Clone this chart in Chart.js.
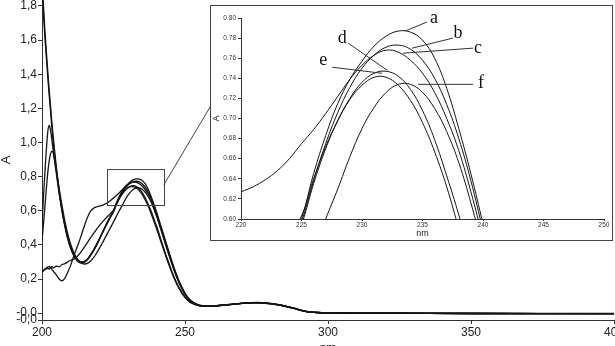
<!DOCTYPE html>
<html>
<head>
<meta charset="utf-8">
<script src="https://cdn.jsdelivr.net/npm/chart.js@4.4.1/dist/chart.umd.min.js"></script>
<style>
  body { margin: 0; background: #fff; }
  #wrap { position: relative; width: 615px; height: 346px; overflow: hidden; background: #fff; }
  #inset { position: absolute; left: 210px; top: 5px; width: 401px; height: 234px; border: 1px solid #444; background: #fff; }
  canvas { display: block; }
</style>
</head>
<body>
<div id="wrap">
  <canvas id="mainChart" width="615" height="346"></canvas>
  <div id="inset"><canvas id="insetChart" width="401" height="234"></canvas></div>
</div>
<script>
// longueurs d'onde (nm) communes a toutes les courbes
const wavelengths = [200, 201, 202, 202.5, 203, 203.5, 204, 205, 206, 207, 208, 209, 210, 211, 212, 213, 214, 215, 216, 217, 218, 219,
  220, 221, 222, 223, 224, 225, 226, 227, 228, 229, 230, 231, 232, 233, 234, 235, 236, 237, 238, 239, 240, 241, 242,
  244, 246, 248, 250, 252, 255, 258, 262, 266, 270, 275, 280, 284, 288, 292, 296, 300, 320, 350, 400];

// absorbance de chaque spectre (a .. f)
const curveA = [1.95, 1.66, 1.42, 1.31, 1.21, 1.11, 1.02, 0.86, 0.72, 0.61, 0.52, 0.445, 0.39, 0.35, 0.32, 0.305, 0.30, 0.305, 0.32, 0.343, 0.37, 0.40,
  0.435, 0.47, 0.505, 0.54, 0.57, 0.600, 0.645, 0.683, 0.715, 0.739, 0.757, 0.772, 0.782, 0.787, 0.786, 0.778, 0.760, 0.730, 0.690, 0.645, 0.595, 0.542, 0.487,
  0.38, 0.275, 0.185, 0.118, 0.074, 0.047, 0.042, 0.046, 0.052, 0.059, 0.063, 0.057, 0.046, 0.030, 0.012, 0.005, 0.003, 0.001, -0.001, -0.002];
const curveB = [1.90, 1.62, 1.39, 1.28, 1.18, 1.08, 0.99, 0.84, 0.71, 0.60, 0.51, 0.435, 0.38, 0.34, 0.313, 0.298, 0.295, 0.30, 0.315, 0.338, 0.365, 0.395,
  0.43, 0.465, 0.50, 0.535, 0.566, 0.597, 0.638, 0.675, 0.706, 0.731, 0.750, 0.763, 0.771, 0.773, 0.769, 0.758, 0.740, 0.714, 0.680, 0.638, 0.588, 0.535, 0.480,
  0.372, 0.268, 0.18, 0.114, 0.072, 0.046, 0.041, 0.045, 0.051, 0.058, 0.062, 0.056, 0.045, 0.029, 0.011, 0.004, 0.002, 0.0, -0.002, -0.003];
const curveC = [0.245, 0.258, 0.27, 0.272, 0.266, 0.256, 0.245, 0.225, 0.20, 0.19, 0.205, 0.24, 0.28, 0.33, 0.375, 0.42, 0.47, 0.52, 0.565, 0.598, 0.614, 0.622,
  0.627, 0.632, 0.639, 0.648, 0.660, 0.675, 0.689, 0.705, 0.722, 0.739, 0.753, 0.763, 0.768, 0.766, 0.758, 0.745, 0.726, 0.700, 0.668, 0.627, 0.580, 0.528, 0.474,
  0.368, 0.265, 0.178, 0.113, 0.072, 0.046, 0.041, 0.045, 0.051, 0.058, 0.062, 0.056, 0.045, 0.029, 0.011, 0.004, 0.002, 0.0, -0.002, -0.003];
const curveD = [0.52, 0.82, 1.06, 1.10, 1.07, 1.01, 0.94, 0.82, 0.70, 0.60, 0.51, 0.44, 0.385, 0.345, 0.317, 0.302, 0.298, 0.303, 0.318, 0.34, 0.367, 0.397,
  0.43, 0.465, 0.50, 0.533, 0.564, 0.594, 0.635, 0.670, 0.698, 0.720, 0.736, 0.745, 0.747, 0.742, 0.729, 0.708, 0.679, 0.643, 0.604, 0.560, 0.512, 0.462, 0.41,
  0.31, 0.22, 0.148, 0.096, 0.063, 0.044, 0.041, 0.045, 0.051, 0.058, 0.062, 0.056, 0.045, 0.029, 0.011, 0.004, 0.002, 0.0, -0.002, -0.003];
const curveE = [0.24, 0.255, 0.262, 0.258, 0.268, 0.272, 0.265, 0.275, 0.272, 0.285, 0.29, 0.30, 0.31, 0.315, 0.328, 0.345, 0.368, 0.392, 0.417, 0.442, 0.466, 0.49,
  0.512, 0.532, 0.551, 0.568, 0.585, 0.603, 0.640, 0.672, 0.698, 0.719, 0.733, 0.741, 0.741, 0.733, 0.718, 0.696, 0.667, 0.632, 0.590, 0.545, 0.498, 0.448, 0.398,
  0.30, 0.212, 0.142, 0.092, 0.061, 0.043, 0.040, 0.044, 0.05, 0.057, 0.061, 0.055, 0.044, 0.028, 0.010, 0.004, 0.002, 0.0, -0.002, -0.003];
const curveF = [0.42, 0.62, 0.82, 0.89, 0.935, 0.95, 0.935, 0.84, 0.73, 0.63, 0.54, 0.465, 0.405, 0.36, 0.327, 0.305, 0.292, 0.288, 0.293, 0.306, 0.325, 0.35,
  0.378, 0.408, 0.44, 0.472, 0.503, 0.535, 0.567, 0.600, 0.630, 0.662, 0.690, 0.711, 0.726, 0.734, 0.734, 0.726, 0.710, 0.687, 0.656, 0.616, 0.570, 0.52, 0.467,
  0.36, 0.26, 0.175, 0.112, 0.071, 0.046, 0.041, 0.045, 0.05, 0.057, 0.061, 0.055, 0.044, 0.028, 0.011, 0.004, 0.002, 0.0, -0.002, -0.003];

const curveNames = ['a', 'b', 'c', 'd', 'e', 'f'];
const curves = [curveA, curveB, curveC, curveD, curveE, curveF];

// graduations de l'axe A du spectre complet
const mainYTicks = [-0.04, 0, 0.2, 0.4, 0.6, 0.8, 1.0, 1.2, 1.4, 1.6, 1.8];
const mainYLabels = ['-0,0', '-0,0', '0,2', '0,4', '0,6', '0,8', '1,0', '1,2', '1,4', '1,6', '1,8'];

// rectangle de la zone agrandie et trait vers l'encart
const zoomBoxNm = [222.7, 242.6];
const zoomBoxA = [0.634, 0.845];
const connectorA = [0.752, 0.713]; // cote rectangle (echelle principale), cote encart (echelle de l'encart)

// lettres de l'encart et leurs traits de rappel
const labelNm = [235.95, 237.93, 239.58, 228.37, 226.8, 239.83];
const labelA = [0.800, 0.785, 0.770, 0.780, 0.758, 0.735];
const leaderFromNm = [235.37, 237.52, 239.17, 228.86, 227.54, 239.17];
const leaderFromA = [0.796, 0.780, 0.770, 0.775, 0.751, 0.734];
const leaderToNm = [233.56, 234.14, 233.40, 232.08, 231.66, 234.63];
const leaderToA = [0.787, 0.770, 0.765, 0.748, 0.745, 0.734];

// position de l'encart dans la page
const INSET_LEFT = 211, INSET_TOP = 6;

function makeDatasets(width) {
  return curves.map((c, k) => ({
    label: curveNames[k],
    data: wavelengths.map((x, i) => ({ x: x, y: c[i] })),
    borderColor: '#141414',
    borderWidth: width,
    pointRadius: 0,
    tension: 0.4,
    fill: false
  }));
}

const axisColor = '#333';

// --- encart (zoom 220-250 nm) ---
const insetLabels = {
  id: 'insetLabels',
  afterDatasetsDraw(chart) {
    const ctx = chart.ctx;
    const sx = chart.scales.x, sy = chart.scales.y;
    ctx.save();
    ctx.strokeStyle = '#333';
    ctx.lineWidth = 1;
    for (let i = 0; i < curveNames.length; i++) {
      ctx.beginPath();
      ctx.moveTo(sx.getPixelForValue(leaderFromNm[i]), sy.getPixelForValue(leaderFromA[i]));
      ctx.lineTo(sx.getPixelForValue(leaderToNm[i]), sy.getPixelForValue(leaderToA[i]));
      ctx.stroke();
    }
    ctx.fillStyle = '#111';
    ctx.font = '18px "Liberation Serif"';
    ctx.textAlign = 'center';
    ctx.textBaseline = 'middle';
    for (let i = 0; i < curveNames.length; i++) {
      ctx.fillText(curveNames[i], sx.getPixelForValue(labelNm[i]), sy.getPixelForValue(labelA[i]));
    }
    ctx.restore();
  }
};

const insetFont = { family: 'Liberation Sans', size: 6.5 };

const insetChart = new Chart(document.getElementById('insetChart'), {
  type: 'line',
  data: { datasets: makeDatasets(1) },
  options: {
    responsive: false,
    animation: false,
    events: [],
    layout: { padding: { top: 12, right: 8, left: 0, bottom: 0 } },
    plugins: { legend: { display: false }, tooltip: { enabled: false } },
    scales: {
      x: {
        type: 'linear', min: 220, max: 250,
        ticks: { stepSize: 5, font: insetFont, color: '#333', padding: 0, maxRotation: 0 },
        grid: { drawOnChartArea: false, tickLength: 2, color: axisColor },
        border: { color: axisColor },
        title: { display: true, text: 'nm', font: { family: 'Liberation Sans', size: 9, lineHeight: 1 }, color: '#222', padding: { top: 0, bottom: 1.5 } },
        afterFit: s => { s.height = 21; s.paddingLeft = 0; s.paddingRight = 0; }
      },
      y: {
        type: 'linear', min: 0.6, max: 0.8,
        ticks: { stepSize: 0.02, font: insetFont, color: '#333', padding: 2, callback: v => v.toFixed(2) },
        grid: { drawOnChartArea: false, tickLength: 3, color: axisColor },
        border: { color: axisColor },
        title: { display: true, text: 'A', font: { family: 'Liberation Sans', size: 9, lineHeight: 1 }, color: '#222', padding: { top: 1.5, bottom: 0 } },
        afterFit: s => { s.width = 30; s.paddingTop = 0; s.paddingBottom = 0; }
      }
    }
  },
  plugins: [insetLabels]
});

// --- spectre complet ---
const zoomMarker = {
  id: 'zoomMarker',
  afterDatasetsDraw(chart) {
    const ctx = chart.ctx;
    const sx = chart.scales.x, sy = chart.scales.y;
    const x0 = sx.getPixelForValue(zoomBoxNm[0]), x1 = sx.getPixelForValue(zoomBoxNm[1]);
    const y0 = sy.getPixelForValue(zoomBoxA[1]), y1 = sy.getPixelForValue(zoomBoxA[0]);
    ctx.save();
    ctx.strokeStyle = '#444';
    ctx.lineWidth = 1;
    ctx.strokeRect(Math.round(x0) + 0.5, Math.round(y0) + 0.5, Math.round(x1 - x0), Math.round(y1 - y0));
    // trait vers l'encart
    const endY = INSET_TOP + insetChart.scales.y.getPixelForValue(connectorA[1]);
    ctx.beginPath();
    ctx.moveTo(x1, sy.getPixelForValue(connectorA[0]));
    ctx.lineTo(INSET_LEFT, endY);
    ctx.stroke();
    ctx.restore();
  }
};

const mainFont = { family: 'Liberation Sans', size: 12 };

new Chart(document.getElementById('mainChart'), {
  type: 'line',
  data: { datasets: makeDatasets(1.3) },
  options: {
    responsive: false,
    animation: false,
    events: [],
    layout: { padding: { top: 0, right: 1, left: 0, bottom: 0 } },
    plugins: { legend: { display: false }, tooltip: { enabled: false } },
    scales: {
      x: {
        type: 'linear', min: 200, max: 400,
        ticks: { stepSize: 50, font: mainFont, color: '#222', padding: 1, maxRotation: 0 },
        grid: { drawOnChartArea: false, tickLength: 4, color: axisColor },
        border: { color: axisColor },
        title: { display: true, text: 'nm', font: { family: 'Liberation Sans', size: 12, lineHeight: 1 }, color: '#222', padding: { top: 0, bottom: -9 } },
        afterFit: s => { s.height = 26; s.paddingLeft = 0; s.paddingRight = 0; }
      },
      y: {
        type: 'linear', min: -0.04, max: 1.835,
        afterBuildTicks: s => { s.ticks = mainYTicks.map(v => ({ value: v })); },
        ticks: { autoSkip: false, font: mainFont, color: '#222', padding: 1, callback: v => mainYLabels[mainYTicks.indexOf(v)] },
        grid: { drawOnChartArea: false, tickLength: 4, color: axisColor },
        border: { color: axisColor },
        title: { display: true, text: 'A', font: { family: 'Liberation Sans', size: 13, lineHeight: 1 }, color: '#222', padding: { top: 0, bottom: 0 } },
        afterFit: s => { s.width = 42; s.paddingTop = 0; s.paddingBottom = 0; }
      }
    }
  },
  plugins: [zoomMarker]
});
</script>
</body>
</html>
